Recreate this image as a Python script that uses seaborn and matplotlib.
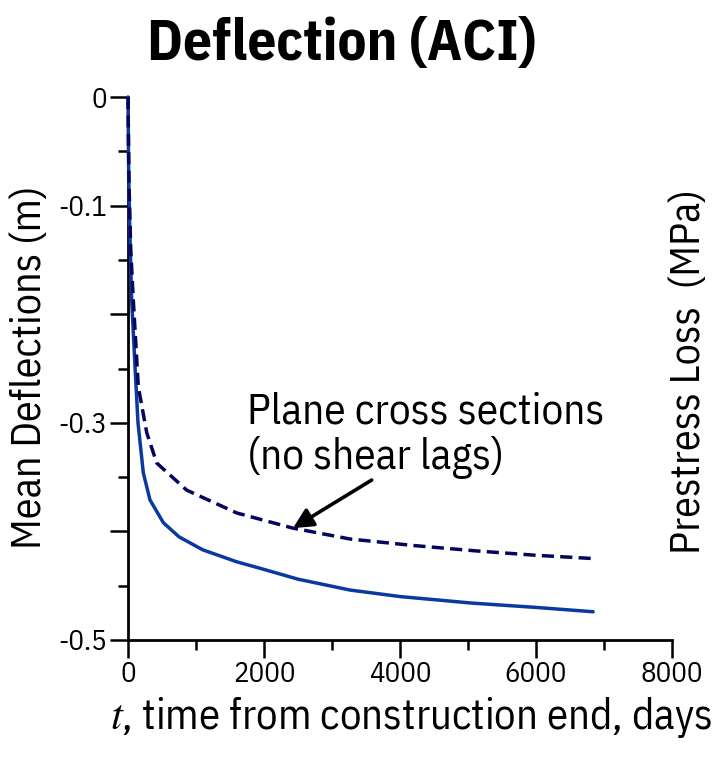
import matplotlib
matplotlib.use("Agg")
import matplotlib.pyplot as plt
import seaborn as sns
import pandas as pd

# ---- data ----
t_solid = [0, 10, 25, 54, 103, 147, 225, 323, 520, 750, 1100, 1600, 2000, 2500, 3265, 4000, 5054, 6000, 6840]
d_solid = [0.0, -0.07, -0.12, -0.187, -0.248, -0.300, -0.346, -0.371, -0.392, -0.405, -0.417, -0.428, -0.435, -0.444, -0.454, -0.460, -0.466, -0.470, -0.474]

t_dash = [0, 15, 40, 78, 152, 275, 422, 863, 1598, 2426, 3265, 4200, 5127, 6000, 6840]
d_dash = [0.0, -0.08, -0.14, -0.187, -0.267, -0.309, -0.337, -0.362, -0.383, -0.397, -0.407, -0.413, -0.418, -0.422, -0.425]

x_ticks = [0, 2000, 4000, 6000, 8000]
x_ticklabels = ["0", "2000", "4000", "6000", "8000"]
y_ticks = [0, -0.1, -0.2, -0.3, -0.4, -0.5]
y_ticklabels = ["0", "-0.1", "", "-0.3", "", "-0.5"]

title = "Deflection (ACI)"
ylabel = "Mean Deflections (m)"
ylabel_right = "Prestress Loss  (MPa)"
xlabel = r"$t$, time from construction end, days"
note_lines = ["Plane cross sections", "(no shear lags)"]

df = pd.concat([
    pd.DataFrame({"t": t_solid, "d": d_solid, "case": "shear lag"}),
    pd.DataFrame({"t": t_dash, "d": d_dash, "case": "plane"}),
])

sns.set_theme(style="ticks")
FAM = ["IBM Plex Sans Condensed", "DejaVu Sans"]
plt.rcParams["font.family"] = FAM
plt.rcParams["mathtext.fontset"] = "stix"

W, H = 725, 758
fig = plt.figure(figsize=(W / 100, H / 100), dpi=100)
ax = fig.add_axes([128 / W, 118 / H, 544 / W, 543 / H])
fig.canvas.draw()
renderer = fig.canvas.get_renderer()


def size_for(text, target_px, weight="normal", vertical=False):
    """font size that gives the text the target length in pixels"""
    t = fig.text(0, 0, text, fontsize=30, fontweight=weight,
                 rotation=90 if vertical else 0)
    bb = t.get_window_extent(renderer)
    t.remove()
    length = bb.height if vertical else bb.width
    return 30 * target_px / length


sns.lineplot(data=df, x="t", y="d", hue="case", style="case",
             palette={"shear lag": "#0a3aa0", "plane": "#05055e"},
             dashes={"shear lag": "", "plane": (3.5, 1.8)},
             linewidth=2.5, legend=False, ax=ax, sort=False, estimator=None)
for ln in ax.get_lines():
    ln.set_clip_on(False)
    ln.set_zorder(5)

ax.set_xlim(0, 8000)
ax.set_ylim(-0.5, 0)
ax.set_xticks(x_ticks)
ax.set_xticklabels(x_ticklabels)
ax.set_xticks([1000, 3000, 5000, 7000], minor=True)
ax.set_yticks(y_ticks)
ax.set_yticklabels(y_ticklabels)
ax.set_yticks([-0.05, -0.15, -0.25, -0.35, -0.45], minor=True)

for s in ["top", "right"]:
    ax.spines[s].set_visible(False)
for s in ["left", "bottom"]:
    ax.spines[s].set_linewidth(2.0)
    ax.spines[s].set_color("black")

tick_fs = size_for("8000", 62)
ax.tick_params(which="major", length=13, width=1.8, color="black",
               labelsize=tick_fs, pad=2, labelcolor="black")
ax.tick_params(which="minor", length=7, width=1.8, color="black")

# axis labels
ax.set_xlabel(xlabel, fontsize=size_for(xlabel, 602), color="black")
ax.xaxis.label.set_va("center")
ax.xaxis.set_label_coords((411 - 128) / 544, (640 - 718) / 543)
ax.set_ylabel(ylabel, fontsize=size_for(ylabel, 363, vertical=True), color="black")
ax.yaxis.label.set_va("center")
ax.yaxis.set_label_coords((30 - 128) / 544, (640 - 367) / 543)

fig.text(342 / W, 1 - 45 / H, title, fontsize=size_for(title, 390, weight="bold"),
         fontweight="bold", ha="center", va="center", color="black")
fig.text(688 / W, 1 - 372 / H, ylabel_right,
         fontsize=size_for(ylabel_right, 365, vertical=True), rotation=90,
         ha="center", va="center", color="black")

ax.annotate("", xy=(2426, -0.397), xytext=(3584, -0.3527),
            arrowprops=dict(arrowstyle="-|>", color="black", lw=2.6,
                            mutation_scale=30, shrinkA=0, shrinkB=0))
note_fs = size_for(note_lines[0], 358)
ax.text(247 / W, 1 - 423 / H, note_lines[0], transform=fig.transFigure,
        fontsize=note_fs, ha="left", va="baseline", color="black")
ax.text(247 / W, 1 - 468 / H, note_lines[1], transform=fig.transFigure,
        fontsize=note_fs, ha="left", va="baseline", color="black")

fig.savefig("out.png", dpi=100)
